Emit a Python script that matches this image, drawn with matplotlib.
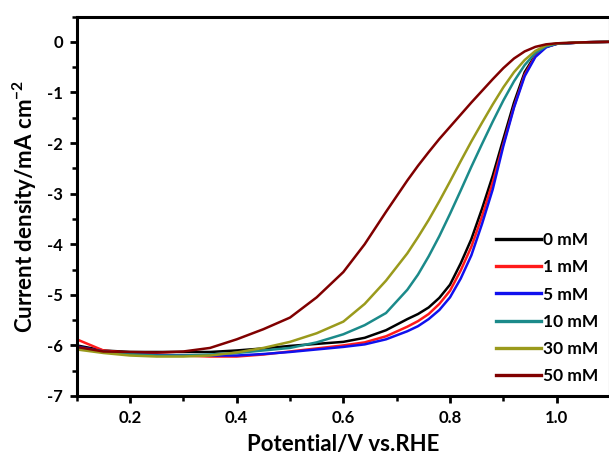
import matplotlib
matplotlib.use("Agg")
import matplotlib.pyplot as plt
from matplotlib.ticker import MultipleLocator

potential = [0.10, 0.15, 0.20, 0.25, 0.30, 0.35, 0.40, 0.45, 0.50, 0.55, 0.60, 0.64, 0.68,
             0.72, 0.74, 0.76, 0.78, 0.80, 0.82, 0.84, 0.86, 0.88, 0.90, 0.92, 0.94, 0.96,
             0.98, 1.00, 1.05, 1.10]

j_0mM = [-6.00, -6.10, -6.13, -6.13, -6.13, -6.13, -6.10, -6.06, -6.01, -5.97, -5.93, -5.85, -5.70,
         -5.48, -5.38, -5.25, -5.06, -4.80, -4.38, -3.90, -3.30, -2.65, -1.92, -1.20, -0.60, -0.26,
         -0.10, -0.04, -0.01, 0.0]
j_1mM = [-5.88, -6.10, -6.15, -6.18, -6.20, -6.22, -6.22, -6.18, -6.12, -6.06, -6.00, -5.94, -5.82,
         -5.63, -5.52, -5.38, -5.18, -4.92, -4.52, -4.05, -3.45, -2.78, -2.02, -1.28, -0.65, -0.28,
         -0.10, -0.04, -0.01, 0.0]
j_5mM = [-6.02, -6.12, -6.17, -6.19, -6.20, -6.20, -6.20, -6.17, -6.13, -6.08, -6.03, -5.98, -5.88,
         -5.72, -5.62, -5.48, -5.30, -5.05, -4.68, -4.22, -3.60, -2.92, -2.06, -1.30, -0.68, -0.30,
         -0.11, -0.04, -0.01, 0.0]
j_10mM = [-6.05, -6.12, -6.17, -6.20, -6.20, -6.18, -6.15, -6.10, -6.05, -5.94, -5.78, -5.60, -5.36,
          -4.90, -4.60, -4.24, -3.84, -3.40, -2.94, -2.47, -2.02, -1.58, -1.16, -0.78, -0.46, -0.22,
          -0.09, -0.04, -0.01, 0.0]
j_30mM = [-6.08, -6.15, -6.20, -6.22, -6.22, -6.20, -6.14, -6.05, -5.93, -5.76, -5.53, -5.18, -4.72,
          -4.18, -3.86, -3.52, -3.15, -2.76, -2.36, -1.97, -1.60, -1.24, -0.90, -0.60, -0.36, -0.18,
          -0.07, -0.03, -0.01, 0.0]
j_50mM = [-6.03, -6.12, -6.13, -6.14, -6.12, -6.05, -5.88, -5.68, -5.45, -5.05, -4.55, -4.00, -3.36,
          -2.74, -2.45, -2.18, -1.92, -1.68, -1.44, -1.20, -0.97, -0.74, -0.52, -0.33, -0.19, -0.10,
          -0.05, -0.03, -0.01, 0.0]

labels = ["0 mM", "1 mM", "5 mM", "10 mM", "30 mM", "50 mM"]
series = [j_0mM, j_1mM, j_5mM, j_10mM, j_30mM, j_50mM]
colors = ["#000000", "#ff1a1a", "#1010ee", "#1b8a8a", "#9a9a1c", "#800000"]

x_ticks = [0.2, 0.4, 0.6, 0.8, 1.0]
x_ticklabels = ["0.2", "0.4", "0.6", "0.8", "1.0"]
y_ticks = [-7, -6, -5, -4, -3, -2, -1, 0]
y_ticklabels = ["-7", "-6", "-5", "-4", "-3", "-2", "-1", "0"]

plt.rcParams['font.family'] = ['Lato', 'DejaVu Sans']
plt.rcParams['font.weight'] = 'bold'
plt.rcParams['mathtext.fontset'] = 'custom'
plt.rcParams['mathtext.rm'] = 'Lato:bold'
plt.rcParams['mathtext.bf'] = 'Lato:bold'
plt.rcParams['mathtext.it'] = 'Lato:bold'

fig = plt.figure(figsize=(6.09, 4.57), dpi=100)
ax = fig.add_axes([76.7/609, 1 - 396/457, (610 - 76.7)/609, (396 - 16.5)/457])

for y, lab, c in zip(series, labels, colors):
    ax.plot(potential, y, color=c, lw=1.8, label=lab)

ax.set_xlim(0.1, 1.1)
ax.set_ylim(-7, 0.5)
ax.set_xticks(x_ticks)
ax.set_xticklabels(x_ticklabels)
ax.set_yticks(y_ticks)
ax.set_yticklabels(y_ticklabels)
ax.xaxis.set_minor_locator(MultipleLocator(0.1))
ax.yaxis.set_minor_locator(MultipleLocator(0.5))

ax.tick_params(which='major', direction='out', length=5, width=2, labelsize=12, pad=5)
ax.tick_params(which='minor', direction='out', length=3.5, width=1.8)
for lbl in ax.get_xticklabels() + ax.get_yticklabels():
    lbl.set_fontweight('bold')
for sp in ax.spines.values():
    sp.set_linewidth(2.2)

ax.set_xlabel("Potential/V vs.RHE", fontsize=16, fontweight='bold', labelpad=6)
ax.set_ylabel("Current density/mA cm$^{-2}$", fontsize=16, fontweight='bold', labelpad=6)

leg = ax.legend(loc='lower right', frameon=False, fontsize=12.5, handlelength=2.6,
                handletextpad=0.1, labelspacing=0.64, borderaxespad=0.3,
                bbox_to_anchor=(1.0, 0.0))
for t in leg.get_texts():
    t.set_fontweight('bold')
for h in leg.get_lines():
    h.set_linewidth(2.4)

fig.savefig("out.png", dpi=100)
